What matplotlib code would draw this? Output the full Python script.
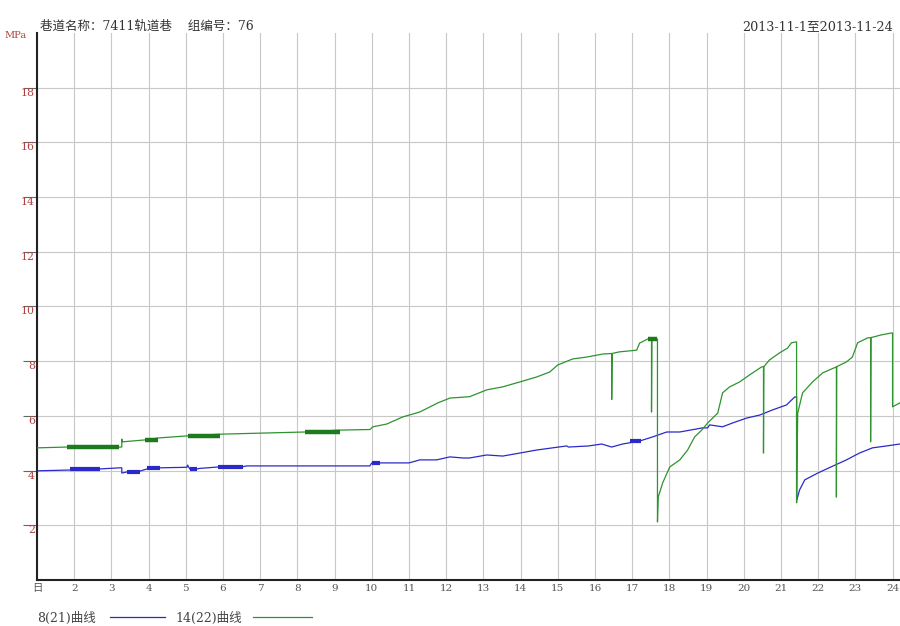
import matplotlib
matplotlib.use("Agg")
import matplotlib.pyplot as plt
from matplotlib.lines import Line2D

plt.rcParams["font.family"] = ["Noto Sans CJK SC", "DejaVu Sans"]
SERIF_CJK = ["DejaVu Serif", "Noto Sans CJK SC"]

# Roadway support pressure, 2013-11-01 .. 2013-11-24 (x = day of month, y = MPa)
TITLE_LEFT = "巷道名称：7411轨道巷    组编号：76"
TITLE_RIGHT = "2013-11-1至2013-11-24"
DAYS = list(range(1, 25))
DAY_LABELS = ["日"] + [str(d) for d in range(2, 25)]
Y_TICKS = [2, 4, 6, 8, 10, 12, 14, 16, 18]

# 8(21) curve (blue)
day_8 = [1.00, 1.89, 2.69, 3.23, 3.28, 3.28, 3.42, 3.77, 3.96, 4.30, 5.03, 5.05,
         5.11, 5.30, 5.38, 5.86, 6.53, 6.64, 9.95, 10.00, 10.54, 11.00, 11.29,
         11.74, 12.10, 12.45, 12.63, 13.09, 13.52, 13.98, 14.43, 14.86, 15.24,
         15.29, 15.83, 16.18, 16.45, 16.74, 17.20, 17.55, 17.93, 18.28, 18.89,
         19.03, 19.08, 19.43, 19.70, 20.08, 20.43, 20.78, 21.15, 21.37, 21.42,
         21.42, 21.50, 21.64, 21.99, 22.34, 22.76, 23.11, 23.46, 23.84, 24.19]
val_8 = [3.99, 4.02, 4.06, 4.10, 4.10, 3.91, 3.95, 3.98, 4.06, 4.10, 4.12, 4.20,
         4.05, 4.06, 4.08, 4.13, 4.14, 4.17, 4.17, 4.28, 4.28, 4.28, 4.39,
         4.39, 4.50, 4.46, 4.46, 4.57, 4.53, 4.64, 4.75, 4.83, 4.90,
         4.86, 4.90, 4.97, 4.86, 4.97, 5.08, 5.23, 5.41, 5.41, 5.56,
         5.56, 5.67, 5.60, 5.74, 5.92, 6.03, 6.22, 6.40, 6.69, 6.69,
         2.90, 3.29, 3.66, 3.91, 4.13, 4.39, 4.64, 4.83, 4.90, 4.97]

# 14(22) curve (green); the short vertical dips are single low readings
day_14 = [1.00, 1.81, 3.28, 3.28, 3.29, 3.90, 4.25, 5.06, 5.92, 8.20, 9.14, 9.95,
          10.03, 10.40, 10.83, 11.29, 11.77, 12.10, 12.63, 13.09, 13.52, 13.98,
          14.43, 14.78, 15.00, 15.40, 15.78, 16.21, 16.45, 16.45, 16.46, 16.66,
          17.12, 17.20, 17.42, 17.52, 17.52, 17.53, 17.68, 17.68, 17.70, 17.82,
          18.01, 18.28, 18.49, 18.68, 18.87, 19.03, 19.30, 19.43, 19.62, 19.89,
          20.16, 20.48, 20.53, 20.53, 20.54, 20.69, 20.96, 21.18, 21.28, 21.39,
          21.42, 21.42, 21.45, 21.58, 21.85, 22.12, 22.49, 22.49, 22.50, 22.76,
          22.92, 23.06, 23.33, 23.41, 23.41, 23.42, 23.70, 23.97, 24.00, 24.00,
          24.19]
val_14 = [4.83, 4.86, 4.86, 5.15, 5.05, 5.12, 5.19, 5.27, 5.33, 5.41, 5.48, 5.50,
          5.60, 5.70, 5.96, 6.14, 6.47, 6.65, 6.70, 6.95, 7.06, 7.24,
          7.42, 7.60, 7.86, 8.08, 8.15, 8.26, 8.28, 6.60, 8.28, 8.34,
          8.40, 8.66, 8.81, 8.81, 6.14, 8.81, 8.81, 2.12, 3.03, 3.55,
          4.13, 4.39, 4.75, 5.23, 5.48, 5.74, 6.10, 6.84, 7.06, 7.24,
          7.50, 7.79, 7.80, 4.64, 7.80, 8.04, 8.30, 8.48, 8.67, 8.70,
          8.70, 2.82, 6.10, 6.84, 7.24, 7.57, 7.79, 3.03, 7.80, 7.97,
          8.15, 8.67, 8.85, 8.86, 5.05, 8.86, 8.96, 9.03, 9.03, 6.33,
          6.47]

# periods of dense readings: (start day, end day, MPa)
dense_8 = [(1.89, 2.69, 4.06), (3.42, 3.77, 3.95), (3.96, 4.30, 4.08),
           (5.11, 5.30, 4.05), (5.86, 6.53, 4.13), (10.00, 10.22, 4.28),
           (16.95, 17.25, 5.08)]
dense_14 = [(1.81, 3.20, 4.86), (3.90, 4.25, 5.12), (5.06, 5.92, 5.27),
            (8.20, 9.14, 5.41), (17.42, 17.68, 8.81)]

BLUE = "#2a2ac8"
GREEN = "#2f932f"

fig = plt.figure(figsize=(9.0, 6.26), dpi=100)
ax = fig.add_axes([0.0411, 0.0735, 0.9589, 0.874])

ax.plot(day_8, val_8, color=BLUE, lw=0.9, zorder=3)
ax.plot(day_14, val_14, color=GREEN, lw=0.9, zorder=3)
for d0, d1, v in dense_8:
    ax.hlines(v, d0, d1, color=BLUE, lw=3, zorder=4)
for d0, d1, v in dense_14:
    ax.hlines(v, d0, d1, color="#1e7a1e", lw=3.2, zorder=4)

ax.set_xlim(1, 24.2)
ax.set_ylim(0, 20)
ax.set_xticks(DAYS)
ax.set_xticklabels(DAY_LABELS, color="#555555", fontsize=7.5, family=SERIF_CJK)
ax.set_yticks(Y_TICKS)
ax.set_yticklabels([str(v) for v in Y_TICKS], color="#b04040", fontsize=7.8,
                   family=SERIF_CJK, va="top")
ax.tick_params(axis="x", length=0, pad=3)
ax.tick_params(axis="y", length=10, width=0.8, color="#666666", pad=-8.6)
ax.grid(True, color="#c8c8c8", lw=0.8)
ax.set_axisbelow(True)
for side in ("top", "right"):
    ax.spines[side].set_visible(False)
for side in ("left", "bottom"):
    ax.spines[side].set_linewidth(1.5)
    ax.spines[side].set_color("#222222")

fig.text(0.005, 1 - 38 / 626, "MPa", color="#b04040", fontsize=7, family=SERIF_CJK)
fig.text(40 / 900, 1 - 30 / 626, TITLE_LEFT, color="#333333", fontsize=9,
         family=SERIF_CJK)
fig.text(893 / 900, 1 - 30 / 626, TITLE_RIGHT, color="#333333", fontsize=9.2,
         ha="right", family=SERIF_CJK)

# legend row under the chart
fig.text(37 / 900, 1 - 622 / 626, "8(21)曲线", color="#444444", fontsize=9,
         family=SERIF_CJK)
fig.add_artist(Line2D([110 / 900, 165 / 900], [1 - 617 / 626] * 2, color=BLUE, lw=0.9))
fig.text(175 / 900, 1 - 622 / 626, "14(22)曲线", color="#444444", fontsize=9,
         family=SERIF_CJK)
fig.add_artist(Line2D([253 / 900, 312 / 900], [1 - 617 / 626] * 2, color=GREEN, lw=0.9))

fig.savefig("out.png", dpi=100)
